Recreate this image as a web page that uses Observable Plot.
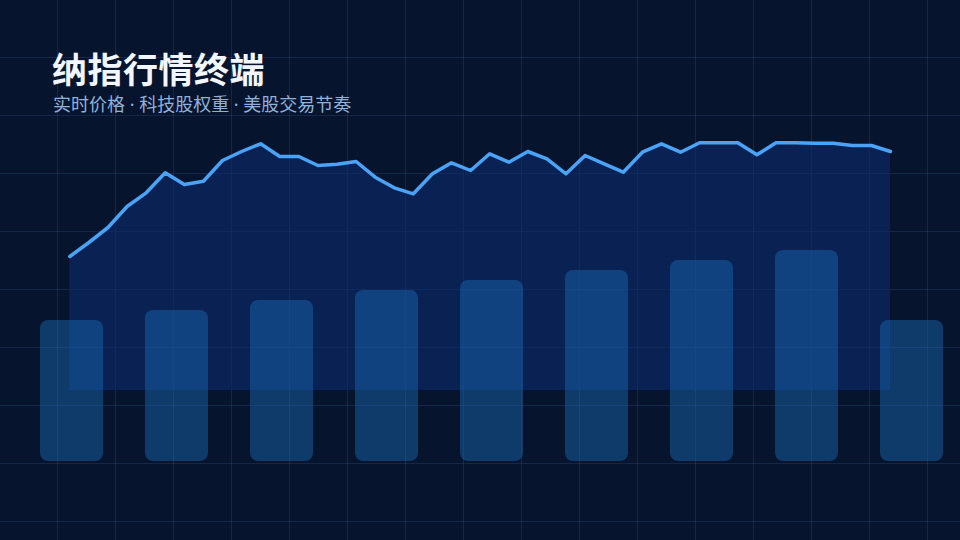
<!DOCTYPE html>
<html>
<head>
<meta charset="utf-8">
<script src="https://cdn.jsdelivr.net/npm/d3@7"></script>
<script src="https://cdn.jsdelivr.net/npm/@observablehq/plot@0.6"></script>
<style>
  html, body { margin: 0; padding: 0; }
  body {
    width: 960px; height: 540px; overflow: hidden;
    background-color: #07142d;
    background-image:
      linear-gradient(to right, transparent 57px, rgba(70,105,170,0.22) 57px, rgba(70,105,170,0.22) 58px),
      linear-gradient(to bottom, transparent 57px, rgba(70,105,170,0.22) 57px, rgba(70,105,170,0.22) 58px);
    background-size: 58px 58px;
    font-family: "Noto Sans CJK SC", "Noto Sans", sans-serif;
  }
  #wrap { position: relative; width: 960px; height: 540px; }
  #wrap svg { position: absolute; left: 0; top: 0; background: transparent; }
  #title {
    position: absolute; left: 52px; top: 50px; margin: 0;
    font-size: 35px; font-weight: 700; color: #f2f6ff; line-height: 1; letter-spacing: 0.5px;
  }
  #subtitle {
    position: absolute; left: 53px; top: 95px; margin: 0;
    font-family: "Noto Sans", "Noto Sans CJK SC", sans-serif;
    font-size: 18px; font-weight: 400; color: #8fb2dc; line-height: 1;
  }
</style>
</head>
<body>
<div id="wrap">
  <div id="line"></div>
  <div id="bars"></div>
  <div id="title">纳指行情终端</div>
  <div id="subtitle">实时价格 · 科技股权重 · 美股交易节奏</div>
</div>
<script>
// Price series (index points), one value per tick
const prices = [
  15340, 15480, 15630, 15840, 15977, 16177, 16060, 16093, 16300, 16390,
  16467, 16340, 16340, 16250, 16263, 16290, 16133, 16027, 15967, 16167,
  16277, 16200, 16367, 16283, 16390, 16317, 16167, 16350, 16267, 16183,
  16383, 16467, 16383, 16477, 16477, 16477, 16357, 16477, 16477, 16473,
  16473, 16450, 16450, 16390
];
const priceBase = 14000;
const priceTop = 17000;

// Volume bars
const volumeLabels = ["B1", "B2", "B3", "B4", "B5", "B6", "B7", "B8", "B9"];
const volumes = [141, 151, 161, 171, 181, 191, 201, 211, 141];
const volumeMax = 461;

const priceData = prices.map((v, i) => ({i, v}));
const volumeData = volumeLabels.map((k, j) => ({k, v: volumes[j]}));

const W = 960, H = 540;

const linePlot = Plot.plot({
  width: W, height: H,
  marginLeft: 69.3, marginRight: 70, marginTop: 90, marginBottom: 150,
  style: {background: "transparent"},
  x: {domain: [0, prices.length - 1], axis: null},
  y: {domain: [priceBase, priceTop], axis: null},
  marks: [
    Plot.areaY(priceData, {x: "i", y1: priceBase, y2: "v", fill: "#0d2b6c", fillOpacity: 0.6}),
    Plot.lineY(priceData, {x: "i", y: "v", stroke: "#4aa3f7", strokeWidth: 3.5, strokeLinejoin: "round"})
  ]
});

const barsPlot = Plot.plot({
  width: W, height: H,
  marginLeft: 40, marginRight: 17, marginTop: 0, marginBottom: 79,
  style: {background: "transparent"},
  x: {domain: volumeLabels, paddingInner: 0.4, paddingOuter: 0, axis: null},
  y: {domain: [0, volumeMax], axis: null},
  marks: [
    Plot.barY(volumeData, {x: "k", y: "v", fill: "#1a6ab8", fillOpacity: 0.45, rx: 8})
  ]
});

document.getElementById("line").appendChild(linePlot);
document.getElementById("bars").appendChild(barsPlot);
</script>
</body>
</html>
